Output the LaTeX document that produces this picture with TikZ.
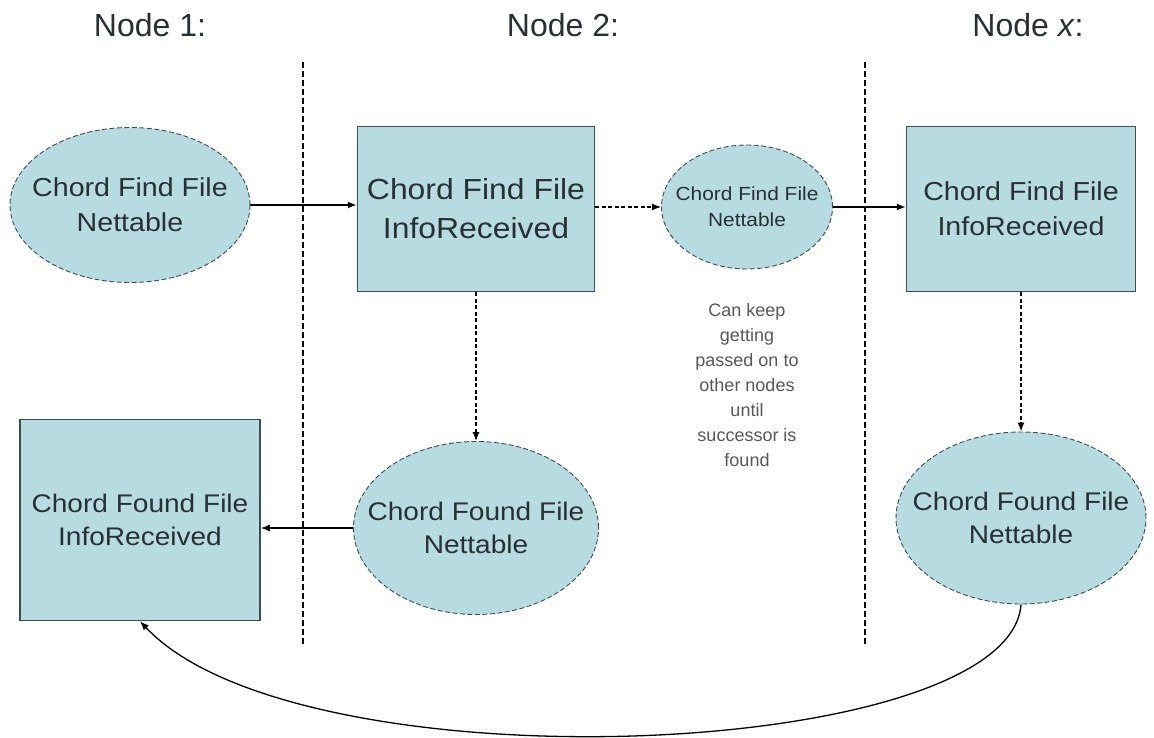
\documentclass[tikz,border=0pt]{standalone}
\usepackage{fontspec}
\setmainfont{Liberation Sans}
\newfontfamily\cellfont{Liberation Sans}[FakeStretch=1.1]
\usetikzlibrary{positioning,arrows.meta,shapes.geometric}
\definecolor{cellfill}{RGB}{182,220,225}
\definecolor{cellline}{RGB}{62,78,80}
\definecolor{inkgrey}{RGB}{40,48,52}
\definecolor{notegrey}{RGB}{88,88,88}

\begin{document}
\begin{tikzpicture}[x=1pt,y=-1pt,
      hdr/.style={font=\fontsize{32}{38}\selectfont,text=inkgrey},
      cell/.style={rectangle,draw=cellline,line width=1.5pt,fill=cellfill,
                   inner sep=0pt,align=center,text=inkgrey},
      oval/.style={ellipse,draw=cellline,line width=0.9pt,
                   dash pattern=on 5pt off 2.5pt,fill=cellfill,
                   inner xsep=-30pt,inner ysep=0pt,align=center,text=inkgrey},
      bigfind/.style={font=\cellfont\fontsize{29}{39}\selectfont},
      midfind/.style={font=\cellfont\fontsize{26}{35}\selectfont},
      smallfind/.style={font=\cellfont\fontsize{19}{26}\selectfont},
      found/.style={font=\cellfont\fontsize{25.5}{33}\selectfont},
      flow/.style={-{Latex[length=9pt,width=7pt]},line width=1.3pt},
      dflow/.style={flow,dash pattern=on 4pt off 2.5pt},
      divider/.style={line width=1.2pt,dash pattern=on 6pt off 3pt}]

    \useasboundingbox (0,0) rectangle (1154,738);

    % column headings
    \node[hdr] (hdr1) at (150,25) {Node 1:};
    \node[hdr] (hdr2) at (563,25) {Node 2:};
    \node[hdr] (hdrx) at (1028,25) {Node \textit{x}:};

    % column separators
    \draw[divider] (303,62) -- (303,645);
    \draw[divider] (865,62) -- (865,645);

    % top row: find request travelling right
    \node[oval,midfind,minimum width=240pt,minimum height=155pt] (find1) at (130,205)
          {Chord Find File\\Nettable};
    \node[cell,bigfind,minimum width=237pt,minimum height=165pt] (info2) at (476,209)
          {Chord Find File\\InfoReceived};
    \node[oval,smallfind,minimum width=171pt,minimum height=124pt] (find2) at (747,207)
          {Chord Find File\\Nettable};
    \node[cell,midfind,minimum width=229pt,minimum height=165pt] (infox) at (1021,209)
          {Chord Find File\\InfoReceived};

    \node[below=30pt of find2,align=center,text=notegrey,
          font=\fontsize{18}{25}\selectfont] (note)
          {Can keep\\getting\\passed on to\\other nodes\\until\\successor is\\found};

    % bottom row: found reply
    \node[cell,found,minimum width=240pt,minimum height=201pt] (info1) at (140,520)
          {Chord Found File\\InfoReceived};
    \node[oval,found,minimum width=245pt,minimum height=173pt] (nett2) at (476,528)
          {Chord Found File\\Nettable};
    \node[oval,found,minimum width=250pt,minimum height=172pt] (nettx) at (1021,518)
          {Chord Found File\\Nettable};

    % connectors
    \draw[flow] (find1.east) -- (find1.east -| info2.west);
    \draw[dflow] (info2.east |- find2.west) -- (find2.west);
    \draw[flow] (find2.east) -- (find2.east -| infox.west);
    \draw[dflow] (info2.south) -- (nett2.north);
    \draw[dflow] (infox.south) -- (nettx.north);
    \draw[flow] (nett2.west) -- (nett2.west -| info1.east);
    \draw[flow] (nettx.south) .. controls +(-11,156) and +(160,170) .. (info1.south);
  \end{tikzpicture}
\end{document}
